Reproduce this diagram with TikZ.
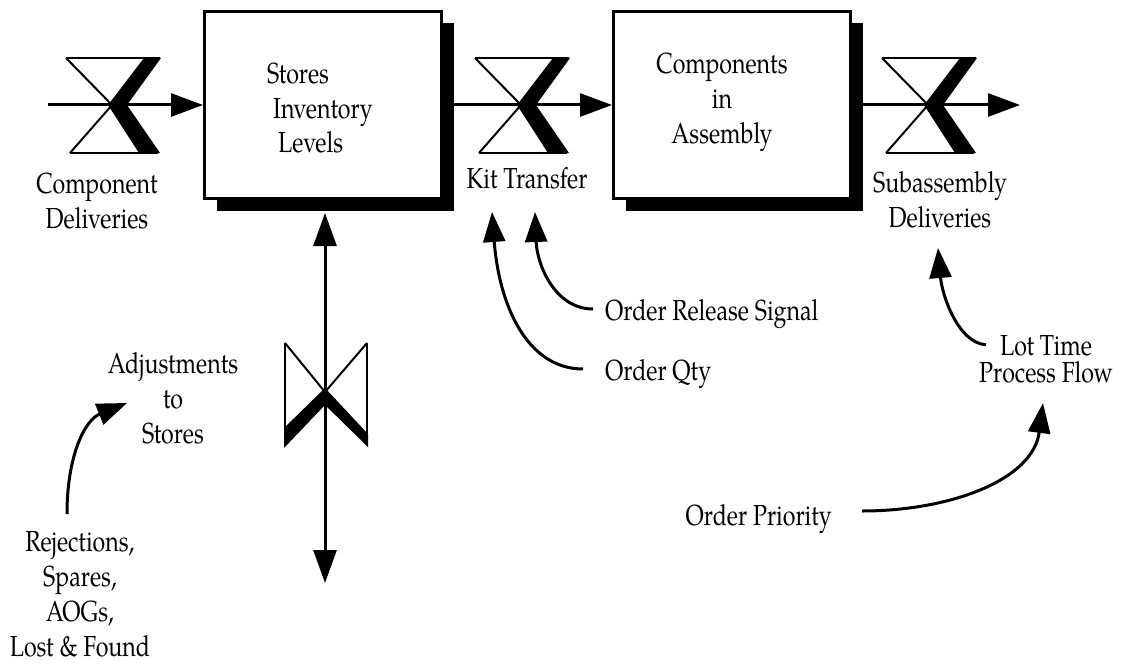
\documentclass[tikz,border=0pt]{standalone}
\usepackage{fontspec}
\setmainfont{TeX Gyre Pagella}[FakeStretch=0.8]
\usetikzlibrary{arrows.meta,shadows}

\tikzset{
  lbl/.style={font=\fontsize{29}{35}\selectfont, inner sep=0pt, align=center},
  stock/.style={draw, line width=3pt, fill=white,
    minimum width=237pt, minimum height=187pt, inner sep=0pt,
    drop shadow={shadow xshift=12pt, shadow yshift=-12pt, fill=black, opacity=1}},
  flow/.style={line width=3pt, -{Triangle[length=32pt,width=23pt]}},
  biflow/.style={line width=3pt, {Triangle[length=33pt,width=23pt]}-{Triangle[length=33pt,width=23pt]}},
  info/.style={line width=3pt, -{Triangle[length=30pt,width=22pt]}},
  valve/.pic={
    \draw[line width=2.5pt] (-46,-47) -- (48,-47);
    \draw[line width=2pt] (-46,-47) -- (0,0) -- (-42,48);
    \draw[line width=2.5pt] (-42,48) -- (46,48);
    \fill (32,-47) -- (49,-47) -- (15,0) -- (48,48) -- (27,48) -- (-4,0) -- cycle;
  }
}

\begin{document}
\begin{tikzpicture}[x=1pt, y=-1pt]
\useasboundingbox (0,0) rectangle (1145,666);

% stocks
\node[stock] (b1) at (323,105) {};
\node[stock] (b2) at (732,105) {};
\node[lbl, anchor=base west, align=left] (b1t) at (267,153)
  {Stores\\\hspace*{6pt}Inventory\\\hspace*{11pt}Levels};
\node[lbl, anchor=base] (b2t) at (722,143) {Components\\in\\Assembly};

% flow end points
\coordinate (src) at (48,105);
\coordinate (sink) at (1020,105);

% main flows
\draw[flow] (src) -- (b1.west);
\draw[flow] (b1.east) -- (b2.west);
\draw[flow] (b2.east) -- (sink);

% valves on the flows
\pic at (112,105) {valve};
\pic at (521,105) {valve};
\pic at (928,105) {valve};

% flow labels
\node[lbl, anchor=base] (cd) at (97,228) {Component\\Deliveries};
\node[lbl, anchor=base] (kt) at (527,188) {Kit Transfer};
\node[lbl, anchor=base] (sd) at (940,227) {Subassembly\\Deliveries};

% adjustment flow (in and out of stores)
\coordinate (adjTop) at (325,213);
\coordinate (adjBot) at (325,583);
\draw[biflow] (adjBot) -- (adjTop);
\begin{scope}[shift={(325,392)}]
  \draw[line width=2.5pt] (-40,-49) -- (-40,54);
  \draw[line width=2.5pt] (42,-49) -- (42,54);
  \draw[line width=2pt] (-40,-49) -- (0,0) -- (42,-49);
  \fill (-41,36) -- (0,-4) -- (43,42) -- (43,55) -- (0,13) -- (-41,56) -- cycle;
\end{scope}

% auxiliary labels
\node[lbl, anchor=base west] (ors) at (605,320) {Order Release Signal};
\node[lbl, anchor=base west] (oq) at (605,380) {Order Qty};
\node[lbl, anchor=base, font=\fontsize{29}{27}\selectfont] (lt) at (1046,382) {Lot Time\\Process Flow};
\node[lbl, anchor=base east] (op) at (832,525) {Order Priority};
\node[lbl, anchor=base] (adj) at (173,443) {Adjustments\\to\\Stores};
\node[lbl, anchor=base] (rej) at (80,656) {Rejections,\\Spares,\\AOGs,\\Lost \& Found};

% information links
\coordinate (kitA) at (492,212);
\coordinate (kitB) at (535,212);
\coordinate (sdIn) at (938,248);
\coordinate (ltIn) at (1043,403);
\coordinate (adjIn) at (127,403);
\coordinate (orsOut) at ([shift={(-12,-11)}]ors.base west);
\coordinate (oqOut) at ([shift={(-22,-11)}]oq.base west);
\coordinate (ltOut) at ([shift={(7,10)}]lt.north west);
\coordinate (opOut) at ([shift={(30,-14)}]op.base east);
\coordinate (rejOut) at ([shift={(-13,-142)}]rej.base);

\draw[info] (oqOut) .. controls (527,369) and (499,305) .. (kitA);
\draw[info] (orsOut) .. controls (555,309) and (537,265) .. (kitB);
\draw[info] (ltOut) .. controls (958,343) and (942,295) .. (sdIn);
\draw[info] (opOut) .. controls (950,511) and (1033,480) .. (ltIn);
\draw[info] (rejOut) .. controls (67,455) and (85,420) .. (adjIn);
\end{tikzpicture}
\end{document}
